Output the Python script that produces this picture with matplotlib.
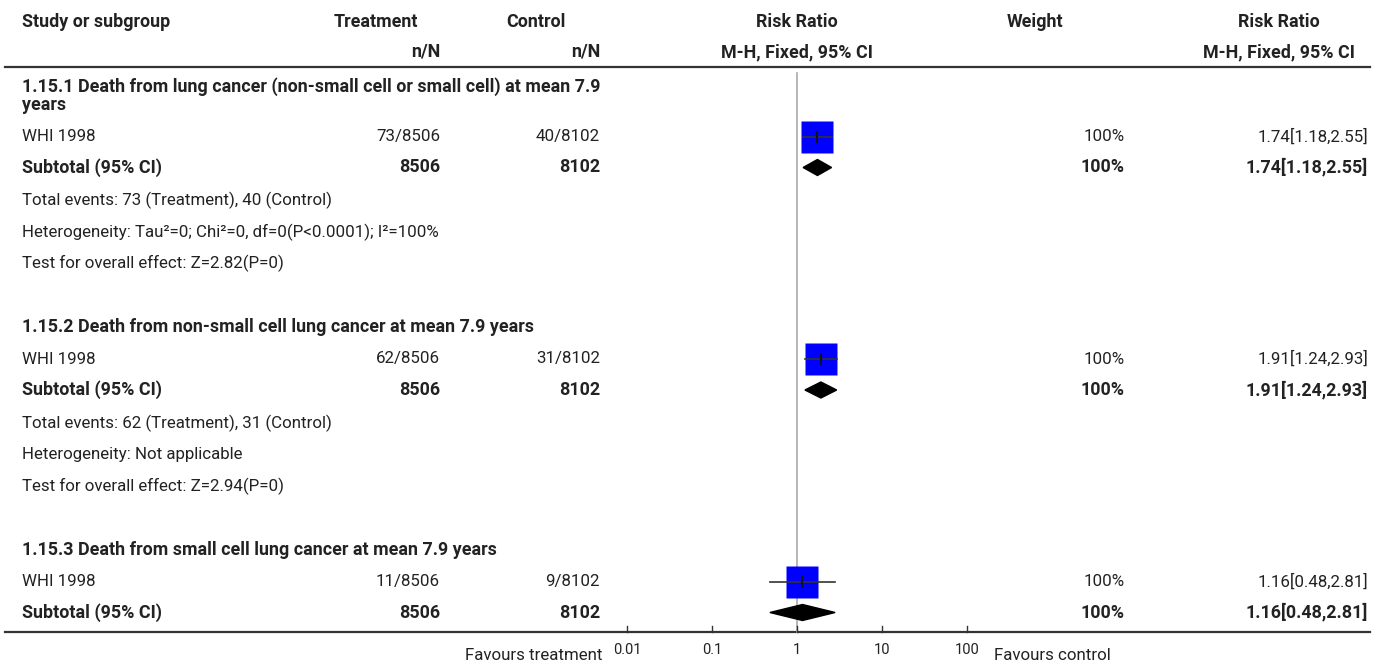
import numpy as np
import matplotlib.pyplot as plt
from matplotlib.patches import Polygon

plt.rcParams['font.family'] = ['Roboto', 'DejaVu Sans']

# subgroup data
groups = ["1.15.1 Death from lung cancer (non-small cell or small cell) at mean 7.9\nyears",
          "1.15.2 Death from non-small cell lung cancer at mean 7.9 years",
          "1.15.3 Death from small cell lung cancer at mean 7.9 years"]
studies = ["WHI 1998", "WHI 1998", "WHI 1998"]
trt_events = [73, 62, 11]
trt_total = [8506, 8506, 8506]
ctl_events = [40, 31, 9]
ctl_total = [8102, 8102, 8102]
rr = [1.74, 1.91, 1.16]
rr_lo = [1.18, 1.24, 0.48]
rr_hi = [2.55, 2.93, 2.81]
weight = [100, 100, 100]
heterogeneity = ["Tau\u00b2=0; Chi\u00b2=0, df=0(P<0.0001); I\u00b2=100%", "Not applicable", None]
z_overall = [2.82, 2.94, None]
p_overall = [0, 0, None]
xticks = [0.01, 0.1, 1, 10, 100]
xtick_labels = ["0.01", "0.1", "1", "10", "100"]

W, H = 1375, 666
fig = plt.figure(figsize=(W / 100, H / 100), dpi=100)
ax = fig.add_axes([0, 0, 1, 1])
ax.set_xlim(0, W)
ax.set_ylim(H, 0)
ax.axis('off')

# forest panel, log scale, shares the pixel rows
x0, x1 = 627, 967
fx = fig.add_axes([x0 / W, 0, (x1 - x0) / W, 1])
fx.set_xscale('log')
fx.set_xlim(0.01, 100)
fx.set_ylim(H, 0)
fx.axis('off')

tc = '#222222'
fs = 12.2   # regular text
fb = 12.9   # bold text


def txt(x, y, s, ha='left', bold=False, **kw):
    ax.text(x, y, s, ha=ha, va='center', color=tc,
            fontsize=fb if bold else fs,
            fontweight='bold' if bold else 'normal', **kw)


# header
hy1, hy2 = 22, 52
txt(22, hy1, "Study or subgroup", bold=True)
txt(376, hy1, "Treatment", ha='center', bold=True)
txt(536, hy1, "Control", ha='center', bold=True)
txt(440, hy2, "n/N", ha='right', bold=True)
txt(600, hy2, "n/N", ha='right', bold=True)
txt(797, hy1, "Risk Ratio", ha='center', bold=True)
txt(797, hy2, "M-H, Fixed, 95% CI", ha='center', bold=True)
txt(1035, hy1, "Weight", ha='center', bold=True)
txt(1279, hy1, "Risk Ratio", ha='center', bold=True)
txt(1279, hy2, "M-H, Fixed, 95% CI", ha='center', bold=True)
ax.plot([5, 1370], [67, 67], color='#333333', lw=1.6)

# line of no effect
fx.plot([1, 1], [73, 632], color='#aaaaaa', lw=1.2, zorder=1)

y = 88
for i in range(len(groups)):
    lines = groups[i].split('\n')
    top = y - 1.5 * (len(lines) > 1)
    for k, ln in enumerate(lines):
        txt(22, top + 19 * k, ln, bold=True)
    y += 17 * (len(lines) - 1)

    # study row
    y += 31.5
    txt(22, y, studies[i])
    txt(440, y, f"{trt_events[i]}/{trt_total[i]}", ha='right')
    txt(600, y, f"{ctl_events[i]}/{ctl_total[i]}", ha='right')
    fx.plot([rr_lo[i], rr_hi[i]], [y, y], color='#333333', lw=1.2, zorder=3, clip_on=False)
    fx.plot([rr[i]], [y], marker='s', markersize=23, color='#0000ff', mec='none', zorder=2, clip_on=False)
    fx.plot([rr[i]], [y], marker='|', markersize=9, color='#111111', mew=1.3, zorder=4, clip_on=False)
    txt(1125, y, f"{weight[i]}%", ha='right')
    txt(1368, y, f"{rr[i]:.2f}[{rr_lo[i]:.2f},{rr_hi[i]:.2f}]", ha='right')

    # subtotal row
    y += 31
    txt(22, y, "Subtotal (95% CI)", bold=True)
    txt(440, y, f"{trt_total[i]}", ha='right', bold=True)
    txt(600, y, f"{ctl_total[i]}", ha='right', bold=True)
    dh = 8
    fx.add_patch(Polygon([[rr_lo[i], y], [rr[i], y - dh], [rr_hi[i], y], [rr[i], y + dh]],
                         closed=True, color='black', zorder=3, clip_on=False))
    txt(1125, y, f"{weight[i]}%", ha='right', bold=True)
    txt(1368, y, f"{rr[i]:.2f}[{rr_lo[i]:.2f},{rr_hi[i]:.2f}]", ha='right', bold=True)

    if heterogeneity[i] is None:
        continue
    y += 33
    txt(22, y, f"Total events: {trt_events[i]} (Treatment), {ctl_events[i]} (Control)")
    y += 31.5
    txt(22, y, f"Heterogeneity: {heterogeneity[i]}")
    y += 31.5
    txt(22, y, f"Test for overall effect: Z={z_overall[i]:.2f}(P={p_overall[i]})")
    y += 64

# bottom axis
ax.plot([5, 1370], [632, 632], color='#333333', lw=1.6)
for t, lab in zip(xticks, xtick_labels):
    fx.plot([t, t], [626, 632], color='#333333', lw=1, clip_on=False)
    fx.text(t, 650, lab, ha='center', va='center', fontsize=10.5, color=tc)
txt(603, 656, "Favours treatment", ha='right')
txt(994, 656, "Favours control")

fig.savefig("out.png", dpi=100)
